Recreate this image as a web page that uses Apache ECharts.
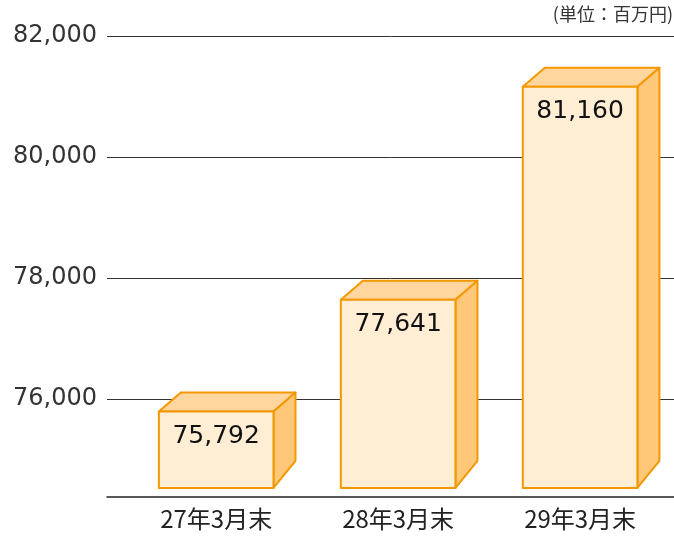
<!DOCTYPE html>
<html>
<head>
<meta charset="utf-8">
<script src="https://cdn.jsdelivr.net/npm/echarts@6/dist/echarts.min.js"></script>
<style>
  html, body { margin: 0; padding: 0; background: #fff; }
  #main { width: 674px; height: 537px; }
</style>
</head>
<body>
<div id="main"></div>
<script>
var categories = ['27年3月末', '28年3月末', '29年3月末'];
var values = [75792, 77641, 81160];
var yTicks = [76000, 78000, 80000, 82000];
var unitText = '(単位：百万円)';
var boxFloor = 74530; // where the boxes stand, just above the axis line

var dom = document.getElementById('main');
var myChart = echarts.init(dom, null, { renderer: 'canvas' });

var fmt = function (v) {
  return String(v).replace(/\B(?=(\d{3})+(?!\d))/g, ',');
};

var option = {
  animation: false,
  backgroundColor: '#fff',
  graphic: [
    {
      type: 'text',
      right: 1,
      top: 5,
      style: {
        text: unitText,
        font: '18px "Noto Sans CJK JP"',
        fill: '#333'
      }
    }
  ],
  grid: { left: 107, right: 0, top: 36, bottom: 40 },
  xAxis: {
    type: 'value',
    min: -0.6,
    max: 2.516,
    axisLine: { show: true, lineStyle: { color: '#222', width: 1.5 } },
    axisTick: { show: false },
    splitLine: { show: false },
    axisLabel: {
      customValues: [0, 1, 2],
      formatter: function (v) { return categories[Math.round(v)]; },
      fontFamily: '"Noto Sans CJK JP"',
      fontSize: 24,
      color: '#222',
      margin: 10
    }
  },
  yAxis: {
    type: 'value',
    min: 74380,
    max: 82000,
    axisLine: { show: false },
    axisTick: { show: false, customValues: yTicks },
    splitLine: { show: true, lineStyle: { color: '#333', width: 1 } },
    axisLabel: {
      customValues: yTicks,
      formatter: fmt,
      fontFamily: 'DejaVu Sans',
      fontSize: 24,
      color: '#333',
      margin: 10
    }
  },
  series: [
    {
      type: 'custom',
      data: values.map(function (v, i) { return [i, v]; }),
      renderItem: function (params, api) {
        var i = api.value(0);
        var top = api.coord([i, api.value(1)]);
        var bottomY = api.coord([i, boxFloor])[1];
        var w = api.size([1, 0])[0] * 0.63;
        var x0 = top[0] - w / 2;
        var x1 = top[0] + w / 2;
        var y0 = top[1];
        var dx = 22, dyTop = 19, dyBot = 27;
        var stroke = { stroke: '#F39800', lineWidth: 2, lineJoin: 'round' };
        return {
          type: 'group',
          children: [
            {
              type: 'polygon',
              shape: { points: [[x0, y0], [x1, y0], [x1 + dx, y0 - dyTop], [x0 + dx, y0 - dyTop]] },
              style: Object.assign({ fill: '#FFD79E' }, stroke)
            },
            {
              type: 'polygon',
              shape: { points: [[x1, y0], [x1 + dx, y0 - dyTop], [x1 + dx, bottomY - dyBot], [x1, bottomY]] },
              style: Object.assign({ fill: '#FFC878' }, stroke)
            },
            {
              type: 'rect',
              shape: { x: x0, y: y0, width: w, height: bottomY - y0 },
              style: Object.assign({ fill: '#FFEDD4' }, stroke)
            },
            {
              type: 'text',
              style: {
                text: fmt(api.value(1)),
                x: top[0],
                y: y0 + 25,
                align: 'center',
                verticalAlign: 'middle',
                font: '25px "DejaVu Sans"',
                fill: '#111'
              }
            }
          ]
        };
      }
    }
  ]
};

if (option && typeof option === 'object') {
  myChart.setOption(option);
}

window.addEventListener('resize', myChart.resize);
</script>
</body>
</html>
